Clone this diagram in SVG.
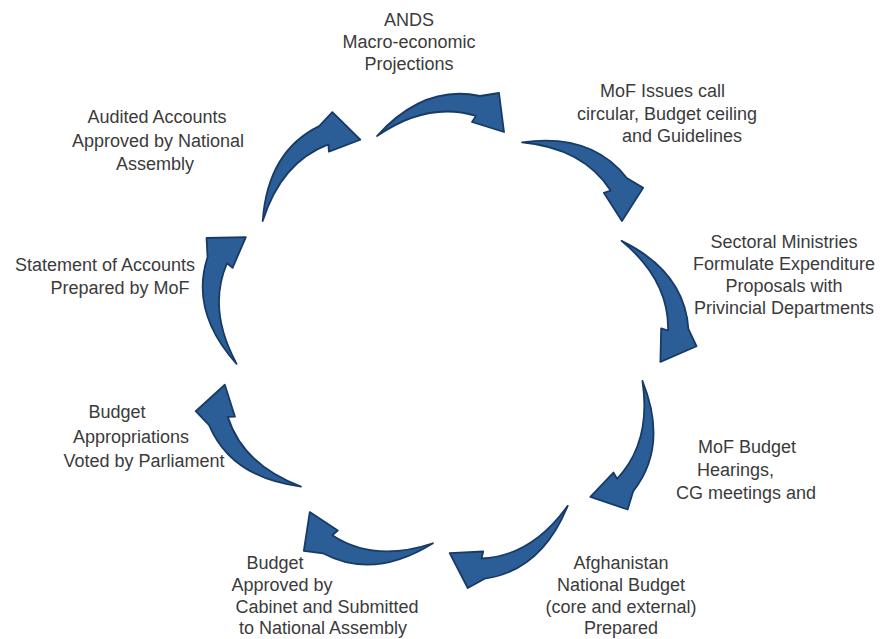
<svg xmlns="http://www.w3.org/2000/svg" xmlns:xlink="http://www.w3.org/1999/xlink" width="880" height="639" viewBox="0 0 880 639">
<style>
.lbl{font-family:"Liberation Sans",Arial,sans-serif;font-size:18px;fill:#3b3b3b}
.m{text-anchor:middle}
.arr{fill:#2b5e97;stroke:#173a66;stroke-width:1.8;stroke-linejoin:round}
</style>
<defs>
<path id="arw" d="M377,136 Q424,84 480,96 L499,93 L504,132 L472,122 L476,116 Q428,101 377,136 Z"/>
</defs>
<rect width="880" height="639" fill="#ffffff"/>
<g id="connectors" class="arr">
<use xlink:href="#arw" href="#arw"/>
<use xlink:href="#arw" href="#arw" transform="translate(-4,-2) rotate(40,440,345)"/>
<use xlink:href="#arw" href="#arw" transform="translate(-2,14) rotate(74,440,345)"/>
<use xlink:href="#arw" href="#arw" transform="translate(-13,1) rotate(116,440,345)"/>
<use xlink:href="#arw" href="#arw" transform="translate(-3,-14) rotate(160,440,345)"/>
<use xlink:href="#arw" href="#arw" transform="translate(-10,-20) rotate(196,440,345)"/>
<use xlink:href="#arw" href="#arw" transform="translate(-4,-30) rotate(235,440,345)"/>
<use xlink:href="#arw" href="#arw" transform="translate(11,-22) rotate(276,440,345)"/>
<use xlink:href="#arw" href="#arw" transform="translate(1,2) rotate(322,440,345)"/>
</g>
<g id="n1" class="lbl m">
<text x="409" y="26">ANDS</text>
<text x="409" y="48">Macro-economic</text>
<text x="409" y="70">Projections</text>
</g>
<g id="n2" class="lbl">
<text x="600" y="97">MoF Issues call</text>
<text x="577" y="120">circular, Budget ceiling</text>
<text x="622" y="142">and Guidelines</text>
</g>
<g id="n3" class="lbl m">
<text x="784" y="248">Sectoral Ministries</text>
<text x="784" y="270">Formulate Expenditure</text>
<text x="784" y="292">Proposals with</text>
<text x="784" y="314">Privincial Departments</text>
</g>
<g id="n4" class="lbl">
<text x="698" y="453">MoF Budget</text>
<text x="697" y="476">Hearings,</text>
<text x="676" y="499">CG meetings and</text>
</g>
<g id="n5" class="lbl m">
<text x="621" y="569">Afghanistan</text>
<text x="621" y="591">National Budget</text>
<text x="621" y="613">(core and external)</text>
<text x="621" y="634">Prepared</text>
</g>
<g id="n6" class="lbl m">
<text x="275" y="569">Budget</text>
<text x="282" y="591">Approved by</text>
<text x="327" y="613">Cabinet and Submitted</text>
<text x="323" y="634">to National Assembly</text>
</g>
<g id="n7" class="lbl m">
<text x="117" y="418">Budget</text>
<text x="131" y="443">Appropriations</text>
<text x="144" y="467">Voted by Parliament</text>
</g>
<g id="n8" class="lbl m">
<text x="105" y="271">Statement of Accounts</text>
<text x="120" y="294">Prepared by MoF</text>
</g>
<g id="n9" class="lbl m">
<text x="157" y="123">Audited Accounts</text>
<text x="158" y="147">Approved by National</text>
<text x="155" y="170">Assembly</text>
</g>
</svg>
